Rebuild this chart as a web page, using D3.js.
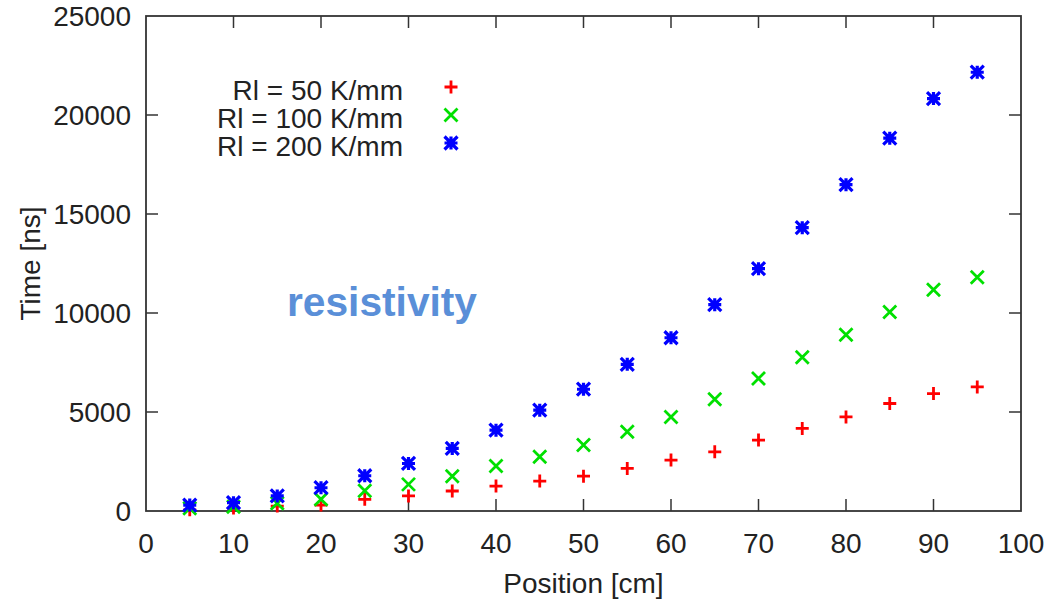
<!DOCTYPE html>
<html><head><meta charset="utf-8">
<script src="https://cdn.jsdelivr.net/npm/d3@7"></script>
<style>body{margin:0;background:#fff}svg{display:block}text{font-family:"Liberation Sans",Arial,sans-serif}</style>
</head><body>
<script>
const positions = [5,10,15,20,25,30,35,40,45,50,55,60,65,70,75,80,85,90,95];
const rl50  = [60,150,250,300,590,760,1010,1260,1510,1760,2150,2570,2990,3580,4170,4750,5430,5930,6265];
const rl100 = [135,220,390,590,1020,1345,1760,2270,2740,3330,4000,4750,5645,6690,7760,8905,10045,11170,11810];
const rl200 = [300,420,760,1175,1780,2400,3160,4080,5090,6150,7410,8750,10420,12240,14310,16480,18830,20830,22160];
const seriesNames = ["Rl = 50 K/mm","Rl = 100 K/mm","Rl = 200 K/mm"];
const xTicks = [0,10,20,30,40,50,60,70,80,90,100];
const yTicks = [0,5000,10000,15000,20000,25000];
const xTitle = "Position [cm]", yTitle = "Time [ns]", note = "resistivity";

const W=1056,H=603;
const L=146,R=1021,T=16,B=511;
const svg=d3.select("body").append("svg").attr("width",W).attr("height",H);
const x=d3.scaleLinear().domain([0,100]).range([L,R]);
const y=d3.scaleLinear().domain([0,25000]).range([B,T]);
const fs=28, frameCol="#333";

// ticks (inward, mirrored)
const g=svg.append("g").attr("stroke",frameCol).attr("stroke-width",1.5);
xTicks.slice(1,-1).forEach(t=>{
  g.append("line").attr("x1",x(t)).attr("x2",x(t)).attr("y1",B).attr("y2",B-12);
  g.append("line").attr("x1",x(t)).attr("x2",x(t)).attr("y1",T).attr("y2",T+12);
});
yTicks.slice(1,-1).forEach(t=>{
  g.append("line").attr("y1",y(t)).attr("y2",y(t)).attr("x1",L).attr("x2",L+12);
  g.append("line").attr("y1",y(t)).attr("y2",y(t)).attr("x1",R).attr("x2",R-12);
});
svg.append("rect").attr("x",L).attr("y",T).attr("width",R-L).attr("height",B-T)
  .attr("fill","none").attr("stroke",frameCol).attr("stroke-width",1.8);

// tick labels
svg.append("g").selectAll("text").data(xTicks).join("text")
  .attr("x",d=>x(d)).attr("y",B+42).attr("text-anchor","middle").attr("font-size",fs).attr("fill","#222").text(d=>d);
svg.append("g").selectAll("text").data(yTicks).join("text")
  .attr("x",L-15).attr("y",d=>y(d)+10).attr("text-anchor","end").attr("font-size",fs).attr("fill","#222").text(d=>d);

svg.append("text").attr("x",(L+R)/2).attr("y",593).attr("text-anchor","middle").attr("font-size",fs).attr("fill","#222").text(xTitle);
svg.append("text").attr("transform",`translate(40,${(T+B)/2}) rotate(-90)`).attr("text-anchor","middle").attr("font-size",fs).attr("fill","#222").text(yTitle);

// markers
const s=6.5;
function plus(sel,col){sel.append("path").attr("d",`M${-s},0H${s}M0,${-s}V${s}`).attr("stroke",col).attr("stroke-width",2.8).attr("fill","none");}
function cross(sel,col){sel.append("path").attr("d",`M${-s},${-s}L${s},${s}M${-s},${s}L${s},${-s}`).attr("stroke",col).attr("stroke-width",2.8).attr("fill","none");}
function star(sel,col){sel.append("path").attr("d",`M${-s},0H${s}M0,${-s}V${s}M${-s},${-s}L${s},${s}M${-s},${s}L${s},${-s}`).attr("stroke",col).attr("stroke-width",3.2).attr("fill","none");}
const series=[{v:rl50,c:"#ff0000",m:plus},{v:rl100,c:"#00e000",m:cross},{v:rl200,c:"#0000ff",m:star}];
series.forEach(sr=>{
  svg.append("g").selectAll("g").data(positions.map((p,i)=>[p,sr.v[i]])).join("g")
    .attr("transform",d=>`translate(${x(d[0])},${y(d[1])})`).each(function(){sr.m(d3.select(this),sr.c);});
});

// legend
series.forEach((sr,i)=>{
  const yy=90+i*28;
  svg.append("text").attr("x",403).attr("y",yy+10).attr("text-anchor","end").attr("font-size",fs).attr("fill","#222").text(seriesNames[i]);
  const gg=svg.append("g").attr("transform",`translate(451,${yy-3})`);
  sr.m(gg,sr.c);
});

svg.append("text").attr("x",287).attr("y",316).attr("font-family","Lato, 'Open Sans', sans-serif").attr("font-weight","bold")
  .attr("font-size",40).attr("fill","#5a8fd8").attr("textLength",190).attr("lengthAdjust","spacingAndGlyphs").text(note);
</script>
</body></html>
